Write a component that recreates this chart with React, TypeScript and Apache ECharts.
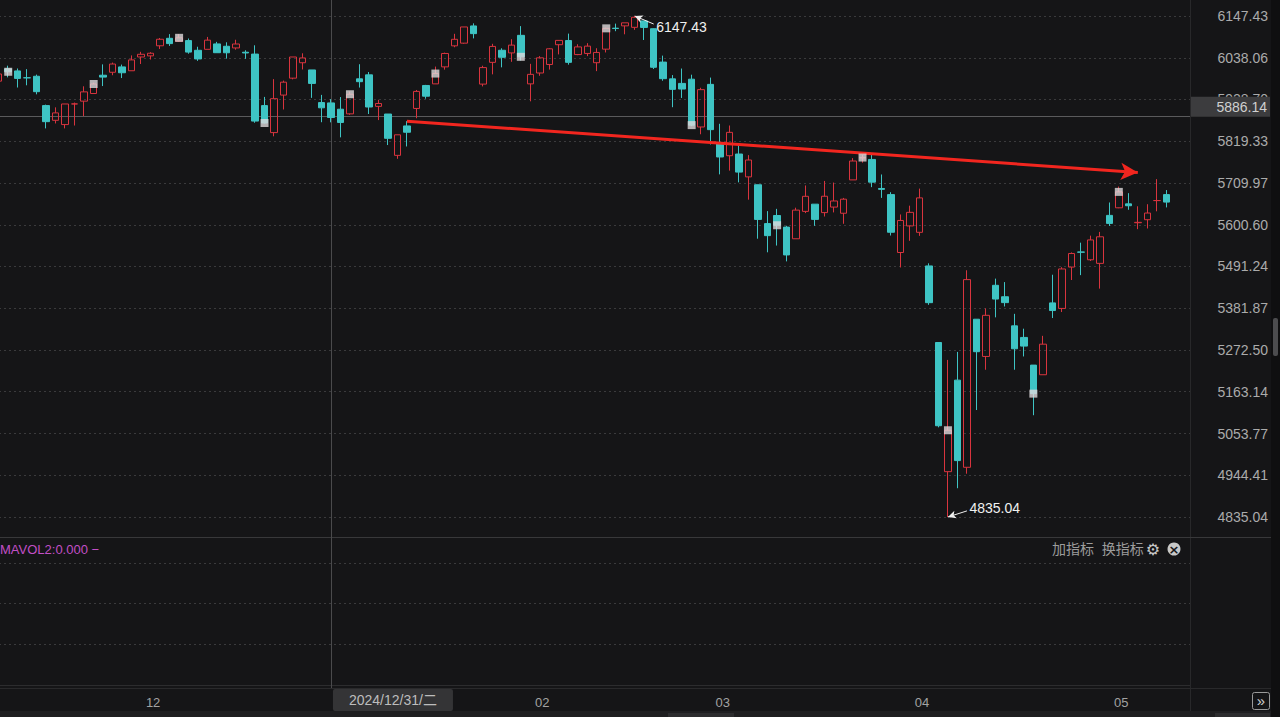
import React, { useEffect, useRef } from 'react';
import * as echarts from 'echarts';

type Candle = [string, number, number, number, number]; // date, open, close, low, high

const novCandles: Candle[] = [
  ['2024-11-08', 5976.76, 5995.54, 5976.76, 6012.45],
  ['2024-11-11', 6008.86, 6001.35, 5986.69, 6017.31],
  ['2024-11-12', 6003.6, 5983.99, 5960.08, 6009.92],
  ['2024-11-13', 5985.75, 5985.38, 5965.91, 6008.19],
  ['2024-11-14', 5989.58, 5949.17, 5942.28, 5993.88],
  ['2024-11-15', 5912.79, 5870.62, 5853.01, 5915.26],
  ['2024-11-18', 5874.17, 5893.62, 5865.95, 5908.12],
  ['2024-11-19', 5863.04, 5916.98, 5853.01, 5917.11],
  ['2024-11-20', 5917.11, 5917.11, 5860.58, 5920.67],
  ['2024-11-21', 5924.37, 5948.71, 5885.23, 5963.28],
  ['2024-11-22', 5944.36, 5969.34, 5944.36, 5972.9],
  ['2024-11-25', 5992.28, 5987.37, 5963.91, 6020.75],
  ['2024-11-26', 6000.03, 6021.63, 5992.27, 6025.42],
  ['2024-11-27', 6014.11, 5998.74, 5984.87, 6020.16],
  ['2024-11-29', 6003.98, 6032.38, 6003.98, 6044.17],
];

const decCandles: Candle[] = [
  ['2024-12-02', 6040.11, 6047.15, 6021.72, 6053.58],
  ['2024-12-03', 6042.97, 6049.88, 6033.39, 6052.58],
  ['2024-12-04', 6069.39, 6086.49, 6061.06, 6089.84],
  ['2024-12-05', 6089.03, 6075.11, 6069.0, 6099.97],
  ['2024-12-06', 6081.38, 6090.27, 6079.98, 6099.97],
  ['2024-12-09', 6083.01, 6052.85, 6048.63, 6088.51],
  ['2024-12-10', 6057.59, 6034.91, 6029.89, 6066.9],
  ['2024-12-11', 6060.15, 6084.19, 6060.15, 6092.59],
  ['2024-12-12', 6074.29, 6051.25, 6051.25, 6079.68],
  ['2024-12-13', 6068.17, 6051.09, 6035.77, 6078.58],
  ['2024-12-16', 6063.79, 6074.08, 6059.14, 6085.19],
  ['2024-12-17', 6052.55, 6050.61, 6035.19, 6057.68],
  ['2024-12-18', 6047.65, 5872.16, 5867.79, 6070.67],
  ['2024-12-19', 5912.71, 5867.08, 5866.07, 5935.52],
  ['2024-12-20', 5842.0, 5930.85, 5832.3, 5982.06],
  ['2024-12-23', 5940.25, 5974.07, 5902.57, 5978.25],
  ['2024-12-24', 5984.63, 6040.04, 5981.44, 6040.1],
  ['2024-12-26', 6024.97, 6037.59, 6007.37, 6049.75],
  ['2024-12-27', 6006.17, 5970.84, 5932.95, 6006.17],
  ['2024-12-30', 5920.67, 5906.94, 5869.16, 5940.79],
  ['2024-12-31', 5919.74, 5881.63, 5868.86, 5929.74],
];

const janCandles: Candle[] = [
  ['2025-01-02', 5903.26, 5868.55, 5829.53, 5935.09],
  ['2025-01-03', 5891.07, 5942.47, 5888.66, 5949.34],
  ['2025-01-06', 5982.81, 5975.38, 5960.01, 6021.04],
  ['2025-01-07', 5993.26, 5909.03, 5890.68, 6000.68],
  ['2025-01-08', 5910.66, 5918.25, 5874.78, 5927.89],
  ['2025-01-10', 5890.66, 5827.04, 5809.39, 5890.66],
  ['2025-01-13', 5782.35, 5836.22, 5773.31, 5836.31],
  ['2025-01-14', 5859.45, 5842.91, 5805.63, 5871.92],
  ['2025-01-15', 5905.21, 5949.91, 5879.54, 5953.64],
  ['2025-01-16', 5965.43, 5937.34, 5930.78, 5967.0],
  ['2025-01-17', 5969.63, 5996.66, 5969.63, 6014.96],
  ['2025-01-21', 6014.12, 6049.24, 6006.88, 6051.51],
  ['2025-01-22', 6069.26, 6086.37, 6065.52, 6100.81],
  ['2025-01-23', 6076.32, 6118.71, 6074.67, 6118.73],
  ['2025-01-24', 6121.43, 6101.24, 6088.74, 6128.18],
  ['2025-01-27', 5969.04, 6012.28, 5962.92, 6017.17],
  ['2025-01-28', 6026.01, 6067.7, 5994.63, 6074.54],
  ['2025-01-29', 6057.7, 6039.31, 6012.96, 6062.83],
  ['2025-01-30', 6050.75, 6071.17, 6027.46, 6086.64],
  ['2025-01-31', 6096.79, 6040.53, 6030.93, 6120.91],
];

const febCandles: Candle[] = [
  ['2025-02-03', 5969.65, 5994.57, 5923.93, 6022.13],
  ['2025-02-04', 5998.14, 6037.88, 5990.87, 6042.48],
  ['2025-02-05', 6020.45, 6061.48, 6007.06, 6062.86],
  ['2025-02-06', 6072.22, 6083.57, 6046.83, 6084.03],
  ['2025-02-07', 6083.13, 6025.99, 6019.96, 6101.28],
  ['2025-02-10', 6046.4, 6066.44, 6044.84, 6073.38],
  ['2025-02-11', 6049.32, 6068.5, 6042.34, 6076.28],
  ['2025-02-12', 6025.08, 6051.97, 6003.0, 6063.0],
  ['2025-02-13', 6060.59, 6115.07, 6051.97, 6116.91],
  ['2025-02-14', 6115.52, 6114.63, 6107.62, 6127.47],
  ['2025-02-18', 6121.6, 6129.58, 6099.51, 6129.63],
  ['2025-02-19', 6117.76, 6144.15, 6111.15, 6147.43],
  ['2025-02-20', 6134.5, 6117.52, 6084.59, 6134.5],
  ['2025-02-21', 6114.1, 6013.13, 6008.56, 6114.82],
  ['2025-02-24', 6026.69, 5983.25, 5977.83, 6043.65],
  ['2025-02-25', 5982.73, 5955.25, 5908.49, 5992.65],
  ['2025-02-26', 5970.87, 5956.06, 5932.69, 6009.82],
  ['2025-02-27', 5981.88, 5861.57, 5858.78, 5993.69],
  ['2025-02-28', 5856.74, 5954.5, 5837.66, 5959.4],
];

const marCandles: Candle[] = [
  ['2025-03-03', 5968.33, 5849.72, 5810.91, 5986.09],
  ['2025-03-04', 5811.98, 5778.15, 5732.59, 5865.08],
  ['2025-03-05', 5781.45, 5842.63, 5742.35, 5860.59],
  ['2025-03-06', 5785.87, 5738.52, 5711.64, 5812.08],
  ['2025-03-07', 5726.01, 5770.2, 5666.29, 5783.01],
  ['2025-03-10', 5705.37, 5614.56, 5564.02, 5705.37],
  ['2025-03-11', 5603.65, 5572.07, 5528.41, 5636.3],
  ['2025-03-12', 5624.84, 5599.3, 5546.09, 5642.19],
  ['2025-03-13', 5594.45, 5521.52, 5504.65, 5597.78],
  ['2025-03-14', 5563.85, 5638.94, 5563.85, 5645.27],
  ['2025-03-17', 5635.6, 5675.12, 5631.12, 5703.52],
  ['2025-03-18', 5654.53, 5614.66, 5597.76, 5654.53],
  ['2025-03-19', 5632.37, 5675.29, 5622.2, 5715.33],
  ['2025-03-20', 5646.92, 5662.89, 5632.91, 5711.15],
  ['2025-03-21', 5630.73, 5667.56, 5603.1, 5670.84],
  ['2025-03-24', 5718.08, 5767.57, 5718.08, 5775.14],
  ['2025-03-25', 5775.48, 5776.65, 5763.15, 5783.97],
  ['2025-03-26', 5771.66, 5712.2, 5699.09, 5786.95],
  ['2025-03-27', 5695.64, 5693.31, 5670.94, 5732.28],
  ['2025-03-28', 5679.59, 5580.94, 5572.42, 5685.89],
  ['2025-03-31', 5527.91, 5611.85, 5488.73, 5627.56],
];

const aprCandles: Candle[] = [
  ['2025-04-01', 5597.53, 5633.07, 5558.52, 5650.57],
  ['2025-04-02', 5580.76, 5670.97, 5571.48, 5695.31],
  ['2025-04-03', 5492.74, 5396.52, 5390.83, 5499.53],
  ['2025-04-04', 5292.14, 5074.08, 5069.9, 5292.14],
  ['2025-04-07', 4953.79, 5062.25, 4835.04, 5246.57],
  ['2025-04-08', 5193.57, 4982.77, 4910.42, 5267.47],
  ['2025-04-09', 4965.28, 5456.9, 4948.43, 5481.34],
  ['2025-04-10', 5353.15, 5268.05, 5115.27, 5353.15],
  ['2025-04-11', 5255.56, 5363.36, 5220.77, 5381.46],
  ['2025-04-14', 5441.96, 5405.97, 5358.02, 5459.46],
  ['2025-04-15', 5411.99, 5396.63, 5386.44, 5450.41],
  ['2025-04-16', 5335.75, 5275.7, 5220.79, 5367.24],
  ['2025-04-17', 5305.45, 5282.7, 5255.58, 5328.31],
  ['2025-04-21', 5232.94, 5158.2, 5101.63, 5232.94],
  ['2025-04-22', 5207.67, 5287.76, 5207.67, 5309.61],
  ['2025-04-23', 5395.92, 5375.86, 5356.22, 5469.69],
  ['2025-04-24', 5381.38, 5484.77, 5371.96, 5489.4],
  ['2025-04-25', 5489.69, 5525.21, 5455.86, 5528.11],
  ['2025-04-28', 5529.22, 5528.75, 5468.64, 5553.66],
  ['2025-04-29', 5508.87, 5560.83, 5505.7, 5571.95],
  ['2025-04-30', 5499.44, 5569.06, 5433.24, 5581.84],
];

const mayCandles: Candle[] = [
  ['2025-05-01', 5625.14, 5604.14, 5597.35, 5658.91],
  ['2025-05-02', 5645.0, 5686.67, 5644.0, 5700.7],
  ['2025-05-05', 5655.32, 5650.38, 5639.79, 5683.34],
  ['2025-05-06', 5605.88, 5606.91, 5589.0, 5649.0],
  ['2025-05-07', 5613.8, 5631.28, 5590.8, 5654.4],
  ['2025-05-08', 5663.94, 5663.94, 5635.84, 5720.1],
  ['2025-05-09', 5679.58, 5659.91, 5646.0, 5691.5],
];

// days marked with a light square at the close
const flagDates = [
  '2024-11-11', '2024-11-22', '2024-12-06', '2024-12-19', '2025-01-03', '2025-01-17', '2025-01-31',
  '2025-02-13', '2025-02-27', '2025-03-12', '2025-03-25', '2025-04-07', '2025-04-21', '2025-05-02',
];

const yTickValues = [
  4835.04, 4944.41, 5053.77, 5163.14, 5272.5, 5381.87, 5491.24, 5600.6, 5709.97, 5819.33, 5928.7, 6038.06, 6147.43,
];
const volTickValues = [0, 1, 2, 3];
const volLabelValues = [0.3, 1, 2, 3];
const volTickLabels = ['0.00', '0.00', '0.00', '0.00'];
// the January label sits under the crosshair's date box in the reference, so it is not shown
const monthTickDates = ['2024-12-03', '2025-02-04', '2025-03-04', '2025-04-02', '2025-05-02'];
const monthTickLabels = ['12', '02', '03', '04', '05'];
const padCategories = ['', ' '];

const crossDate = '2024-12-31';
const crossDateLabel = '2024/12/31/二';
const crossPrice = 5886.14;
const trendStart: [string, number] = ['2025-01-14', 5872];
const trendEnd: [string, number] = ['2025-05-06', 5737.5];
const volumeLegend = 'MAVOL2:0.000 −';
const indicatorText = '加指标  换指标';

const allCandles = [...novCandles, ...decCandles, ...janCandles, ...febCandles, ...marCandles, ...aprCandles, ...mayCandles];
const dates = allCandles.map((c) => c[0]);
const axisDates = [...dates, ...padCategories];
const ohlc = allCandles.map((c) => [c[1], c[2], c[3], c[4]]);
const flagData = flagDates.map((d) => {
  const c = allCandles.find((k) => k[0] === d)!;
  return [d, c[2]];
});
const highCandle = allCandles.reduce((a, b) => (b[4] > a[4] ? b : a));
const lowCandle = allCandles.reduce((a, b) => (b[3] < a[3] ? b : a));

const UP = '#d8343e';
const DOWN = '#3ec4c4';
const BG = '#151517';
const NUM_FONT = 'Arial, "Liberation Sans", "Noto Sans CJK SC", sans-serif';
// the chart canvas starts 6px left of the page so that the first candle is half cut, as in the reference
const OX = 6;
const CHART_W = 1280 + OX;

function buildOption(): any {
  return {
    animation: false,
    backgroundColor: BG,
    grid: [
      { left: 0, right: 90, top: 16, height: 501 },
      { left: 0, right: 90, top: 563, height: 122 },
    ],
    xAxis: [
      {
        type: 'category',
        gridIndex: 0,
        data: axisDates,
        boundaryGap: true,
        axisLine: { show: false },
        axisTick: { show: false },
        axisLabel: { show: false },
        splitLine: { show: false },
      },
      {
        type: 'category',
        gridIndex: 1,
        data: axisDates,
        boundaryGap: true,
        axisLine: { show: true, lineStyle: { color: '#2c2c2e' } },
        axisTick: { show: false },
        splitLine: { show: false },
        axisLabel: {
          show: true,
          color: '#a2a2a2',
          fontSize: 13,
          fontFamily: NUM_FONT,
          margin: 11,
          padding: [0, 0, 0, 5],
          interval: (_i: number, v: string) => monthTickDates.includes(v),
          formatter: (v: string) => {
            const k = monthTickDates.indexOf(v);
            return k >= 0 ? monthTickLabels[k] : '';
          },
        },
      },
    ],
    yAxis: [
      {
        type: 'value',
        gridIndex: 0,
        position: 'right',
        min: yTickValues[0],
        max: yTickValues[yTickValues.length - 1],
        axisLine: { show: false },
        axisTick: { show: false, customValues: yTickValues },
        axisLabel: {
          customValues: yTickValues,
          color: '#ababab',
          fontSize: 14,
          fontFamily: NUM_FONT,
          align: 'right',
          margin: 78,
          formatter: (v: number) => v.toFixed(2),
        },
        splitLine: { show: true, lineStyle: { color: '#3a3a3c', type: [2, 3], width: 1 } },
      },
      {
        type: 'value',
        gridIndex: 1,
        position: 'right',
        min: 0,
        max: 3,
        axisLine: { show: false },
        axisTick: { show: false, customValues: volTickValues },
        axisLabel: {
          customValues: volLabelValues,
          color: '#ababab',
          fontSize: 14,
          fontFamily: NUM_FONT,
          align: 'right',
          margin: 78,
          formatter: (_v: number, i: number) => volTickLabels[i] ?? '',
        },
        splitLine: { show: true, lineStyle: { color: '#3a3a3c', type: [2, 3], width: 1 } },
      },
    ],
    series: [
      {
        type: 'candlestick',
        xAxisIndex: 0,
        yAxisIndex: 0,
        data: ohlc,
        barWidth: 7,
        itemStyle: {
          color: 'transparent',
          color0: DOWN,
          borderColor: UP,
          borderColor0: DOWN,
          borderWidth: 1,
        },
        markLine: {
          silent: true,
          animation: false,
          label: { show: false },
          data: [
            [
              { coord: trendStart, symbol: 'none', lineStyle: { color: '#f2261f', width: 3, type: 'solid' } },
              { coord: trendEnd, symbol: 'arrow', symbolSize: [13, 17] },
            ],
            [
              { coord: [dates[dates.indexOf(highCandle[0]) + 2], highCandle[4] - 21], symbol: 'none', lineStyle: { color: '#eeeeee', width: 1, type: 'solid' } },
              { coord: [highCandle[0], highCandle[4]], symbol: 'arrow', symbolSize: [6, 8] },
            ],
            [
              { coord: [dates[dates.indexOf(lowCandle[0]) + 2], lowCandle[3] + 16], symbol: 'none', lineStyle: { color: '#eeeeee', width: 1, type: 'solid' } },
              { coord: [lowCandle[0], lowCandle[3]], symbol: 'arrow', symbolSize: [6, 8] },
            ],
          ],
        },
        markPoint: {
          silent: true,
          animation: false,
          symbol: 'circle',
          symbolSize: 1,
          itemStyle: { color: 'transparent' },
          label: { show: true, position: 'right', distance: 2, color: '#f0f0f0', fontSize: 14, fontFamily: NUM_FONT },
          data: [
            { coord: [dates[dates.indexOf(highCandle[0]) + 2], highCandle[4] - 29], label: { formatter: highCandle[4].toFixed(2) } },
            { coord: [dates[dates.indexOf(lowCandle[0]) + 2], lowCandle[3] + 23.5], label: { formatter: lowCandle[3].toFixed(2) } },
          ],
        },
      },
      {
        type: 'scatter',
        xAxisIndex: 0,
        yAxisIndex: 0,
        data: flagData,
        symbol: 'rect',
        symbolSize: [8, 8],
        itemStyle: { color: '#dedadc' },
        silent: true,
        z: 5,
      },
    ],
  };
}

// page x -> chart x
const px = (x: number) => x + OX;

function buildGraphic(xc: number, yc: number): any[] {
  const txt = (text: string, x: number, y: number, fill: string, fontSize: number, align: string, extra: any = {}) => ({
    type: 'text',
    z: 20,
    silent: true,
    style: {
      text,
      x,
      y,
      fill,
      fontSize,
      fontFamily: NUM_FONT,
      align,
      verticalAlign: 'middle',
      textAlign: align,
      textVerticalAlign: 'middle',
      ...extra,
    },
  });
  return [
    { type: 'rect', z: 1, silent: true, shape: { x: px(1271), y: 0, width: 9, height: 717 }, style: { fill: '#0f0f10' } },
    { type: 'rect', z: 2, silent: true, shape: { x: px(1273), y: 318, width: 5, height: 38, r: 2 }, style: { fill: '#4c4c4e' } },
    { type: 'rect', z: 1, silent: true, shape: { x: 0, y: 711, width: px(1271), height: 6 }, style: { fill: '#1e1e20' } },
    { type: 'rect', z: 2, silent: true, shape: { x: px(668), y: 713, width: 66, height: 4 }, style: { fill: '#2c2c2e' } },
    { type: 'rect', z: 2, silent: true, shape: { x: px(1215), y: 713, width: 55, height: 4 }, style: { fill: '#2c2c2e' } },
    { type: 'line', z: 1, silent: true, shape: { x1: px(1190.5), y1: 0, x2: px(1190.5), y2: 711 }, style: { stroke: '#28282a', lineWidth: 1 } },
    { type: 'line', z: 1, silent: true, shape: { x1: 0, y1: 537.5, x2: px(1271), y2: 537.5 }, style: { stroke: '#38383a', lineWidth: 1 } },
    { type: 'line', z: 1, silent: true, shape: { x1: 0, y1: 688.5, x2: px(1271), y2: 688.5 }, style: { stroke: '#29292b', lineWidth: 1 } },
    { type: 'line', z: 1, silent: true, shape: { x1: Math.round(xc) + 0.5, y1: 0, x2: Math.round(xc) + 0.5, y2: 688 }, style: { stroke: '#4a4a4c', lineWidth: 1 } },
    { type: 'line', z: 1, silent: true, shape: { x1: 0, y1: Math.round(yc) + 0.5, x2: px(1190), y2: Math.round(yc) + 0.5 }, style: { stroke: '#5a5a5c', lineWidth: 1 } },
    { type: 'rect', z: 15, silent: true, shape: { x: px(1191), y: yc - 19, width: 79, height: 20 }, style: { fill: '#3c3c3e' } },
    txt(crossPrice.toFixed(2), px(1267), yc - 9, '#d0d0d0', 14, 'right'),
    { type: 'rect', z: 15, silent: true, shape: { x: xc + 2, y: 689, width: 120, height: 22, r: 2 }, style: { fill: '#343436' } },
    txt(crossDateLabel, xc + 62, 700, '#bdbdbd', 14, 'center'),
    txt(volumeLegend, px(0), 549, '#c24fc6', 13, 'left'),
    txt(indicatorText, px(1052), 549, '#9c9c9c', 14, 'left'),
    txt('⚙', px(1153), 549, '#c8c8c8', 16, 'center', { fontFamily: '"DejaVu Sans", sans-serif' }),
    { type: 'circle', z: 20, silent: true, shape: { cx: px(1174), cy: 549, r: 6.5 }, style: { fill: '#c8c8c8' } },
    txt('×', px(1174), 549, BG, 13, 'center', { fontWeight: 'bold', fontFamily: '"DejaVu Sans", sans-serif' }),
    { type: 'rect', z: 20, silent: true, shape: { x: px(1252.5), y: 692.5, width: 17, height: 17, r: 2 }, style: { fill: 'transparent', stroke: '#9a9a9a', lineWidth: 1 } },
    txt('»', px(1261), 700, '#d0d0d0', 15, 'center'),
  ];
}

export default function App() {
  const ref = useRef<HTMLDivElement>(null);
  useEffect(() => {
    document.body.style.margin = '0';
    document.body.style.background = BG;
    const chart = echarts.init(ref.current!, null, { renderer: 'svg' });
    chart.setOption(buildOption());
    const xc = chart.convertToPixel({ xAxisIndex: 0 }, crossDate) as number;
    const yc = chart.convertToPixel({ yAxisIndex: 0 }, crossPrice) as number;
    chart.setOption({ graphic: { elements: buildGraphic(xc, yc) } });
    return () => chart.dispose();
  }, []);
  return (
    <div style={{ width: 1280, height: 717, overflow: 'hidden', position: 'relative', background: BG }}>
      <div ref={ref} style={{ position: 'absolute', left: -OX, top: 0, width: CHART_W, height: 717 }} />
    </div>
  );
}
